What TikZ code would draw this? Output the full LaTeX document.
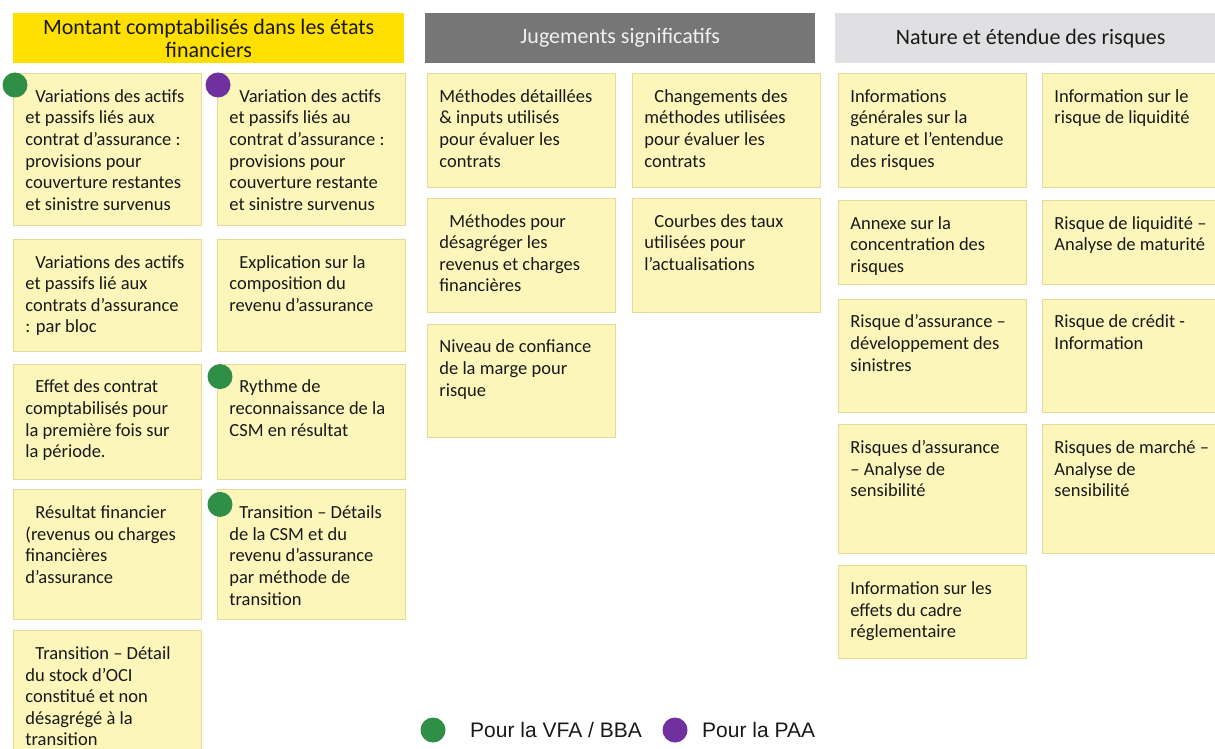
\documentclass[tikz,border=0pt]{standalone}
\usepackage{fontspec}
\setmainfont{Carlito}
\newfontfamily\arialfont{Liberation Sans}
\usetikzlibrary{positioning}
\definecolor{jaunevif}{RGB}{255,224,0}
\definecolor{jaunepale}{RGB}{252,246,186}
\definecolor{bordjaune}{RGB}{228,220,150}
\definecolor{grisfonce}{RGB}{118,118,118}
\definecolor{grisclair}{RGB}{224,224,226}
\definecolor{encre}{RGB}{25,25,25}
\definecolor{vertvfa}{RGB}{47,143,70}
\definecolor{violetpaa}{RGB}{112,48,160}
\newcommand{\carte}[2]{\parbox[t][#1pt][t]{188pt}{\raggedright\leftskip=12pt\relax\vspace*{13.8pt}\strut#2}}
\tikzset{
  entete/.style={
    anchor=north west,
    inner sep=0pt,
    minimum width=391pt,
    minimum height=50pt,
    align=center,
    font=\fontsize{22}{23}\selectfont
  },
  fiche/.style={
    anchor=north west,
    inner sep=0pt,
    draw=bordjaune,
    line width=0.8pt,
    fill=jaunepale,
    text=encre,
    font=\fontsize{18.5}{21.6}\selectfont
  },
  pastille/.style={
    circle,
    inner sep=0pt,
    minimum size=25pt
  },
  legende/.style={
    anchor=base west,
    inner sep=0pt,
    text=encre,
    font=\arialfont\fontsize{21}{24}\selectfont
  }
}

\begin{document}
\begin{tikzpicture}[x=1pt,y=-1pt]
\useasboundingbox (0,0) rectangle (1215,749);
\clip (0,0) rectangle (1215,749);
% en-tetes
\node[entete,fill=jaunevif,text=encre] (h1) at (13,13) {Montant comptabilisés dans les états\\financiers};
\node[entete,fill=grisfonce,text=white!94!black,minimum width=390pt] (h2) at (425,13) {Jugements significatifs};
\node[entete,fill=grisclair,text=encre] (h3) at (835,13) {Nature et étendue des risques};

% montants comptabilises
\node[fiche] (m1) at (13,73) {\carte{152}{\hspace*{10pt}Variations des actifs\\ et passifs liés aux\\ contrat d’assurance :\\ provisions pour\\ couverture restantes\\ et sinistre survenus}};
\node[fiche,below=13pt of m1] (m2) {\carte{112}{\hspace*{10pt}Variations des actifs\\ et passifs lié aux\\ contrats d’assurance\\ : par bloc}};
\node[fiche,below=12pt of m2] (m3) {\carte{115}{\hspace*{10pt}Effet des contrat\\ comptabilisés pour\\ la première fois sur\\ la période.}};
\node[fiche,below=10pt of m3] (m4) {\carte{130}{\hspace*{10pt}Résultat financier\\ (revenus ou charges\\ financières\\ d’assurance}};
\node[fiche,below=10pt of m4] (m5) {\carte{135}{\hspace*{10pt}Transition – Détail\\ du stock d’OCI\\ constitué et non\\ désagrégé à la\\ transition}};
\node[fiche] (n1) at (217,73) {\carte{152}{\hspace*{10pt}Variation des actifs\\ et passifs liés au\\ contrat d’assurance :\\ provisions pour\\ couverture restante\\ et sinistre survenus}};
\node[fiche,below=13pt of n1] (n2) {\carte{112}{\hspace*{10pt}Explication sur la\\ composition du\\ revenu d’assurance}};
\node[fiche,below=12pt of n2] (n3) {\carte{115}{\hspace*{10pt}Rythme de\\ reconnaissance de la\\ CSM en résultat}};
\node[fiche,below=10pt of n3] (n4) {\carte{130}{\hspace*{10pt}Transition – Détails\\ de la CSM et du\\ revenu d’assurance\\ par méthode de\\ transition}};

% jugements
\node[fiche] (j1) at (427,73) {\carte{114}{Méthodes détaillées\\ \& inputs utilisés\\ pour évaluer les\\ contrats}};
\node[fiche,below=10pt of j1] (j2) {\carte{114}{\hspace*{10pt}Méthodes pour\\ désagréger les\\ revenus et charges\\ financières}};
\node[fiche,below=11pt of j2] (j3) {\carte{113}{Niveau de confiance\\ de la marge pour\\ risque}};
\node[fiche] (k1) at (632,73) {\carte{114}{\hspace*{10pt}Changements des\\ méthodes utilisées\\ pour évaluer les\\ contrats}};
\node[fiche,below=10pt of k1] (k2) {\carte{114}{\hspace*{10pt}Courbes des taux\\ utilisées pour\\ l’actualisations}};

% risques
\node[fiche] (r1) at (838,73) {\carte{114}{Informations\\ générales sur la\\ nature et l’entendue\\ des risques}};
\node[fiche,below=12pt of r1] (r2) {\carte{84}{Annexe sur la\\ concentration des\\ risques}};
\node[fiche,below=14pt of r2] (r3) {\carte{113}{Risque d’assurance –\\ développement des\\ sinistres}};
\node[fiche,below=12pt of r3] (r4) {\carte{129}{Risques d’assurance\\ – Analyse de\\ sensibilité}};
\node[fiche,below=11pt of r4] (r5) {\carte{93}{Information sur les\\ effets du cadre\\ réglementaire}};
\node[fiche] (s1) at (1042,73) {\carte{114}{Information sur le\\ risque de liquidité}};
\node[fiche,below=12pt of s1] (s2) {\carte{84}{Risque de liquidité –\\ Analyse de maturité}};
\node[fiche,below=14pt of s2] (s3) {\carte{113}{Risque de crédit -\\ Information}};
\node[fiche,below=12pt of s3] (s4) {\carte{129}{Risques de marché –\\ Analyse de\\ sensibilité}};

% pastilles
\node[pastille,fill=vertvfa] (d1) at ([shift={(2,12)}]m1.north west) {};
\node[pastille,fill=violetpaa] (d2) at ([shift={(1,12)}]n1.north west) {};
\node[pastille,fill=vertvfa] (d3) at ([shift={(3,13)}]n3.north west) {};
\node[pastille,fill=vertvfa] (d4) at ([shift={(3,15)}]n4.north west) {};

% legende
\node[pastille,fill=vertvfa] (lg) at (433,730) {};
\node[legende] (tg) at (470,737) {Pour la VFA / BBA};
\node[pastille,fill=violetpaa] (lp) at (675,730) {};
\node[legende] (tp) at (702,737) {Pour la PAA};
\end{tikzpicture}
\end{document}
